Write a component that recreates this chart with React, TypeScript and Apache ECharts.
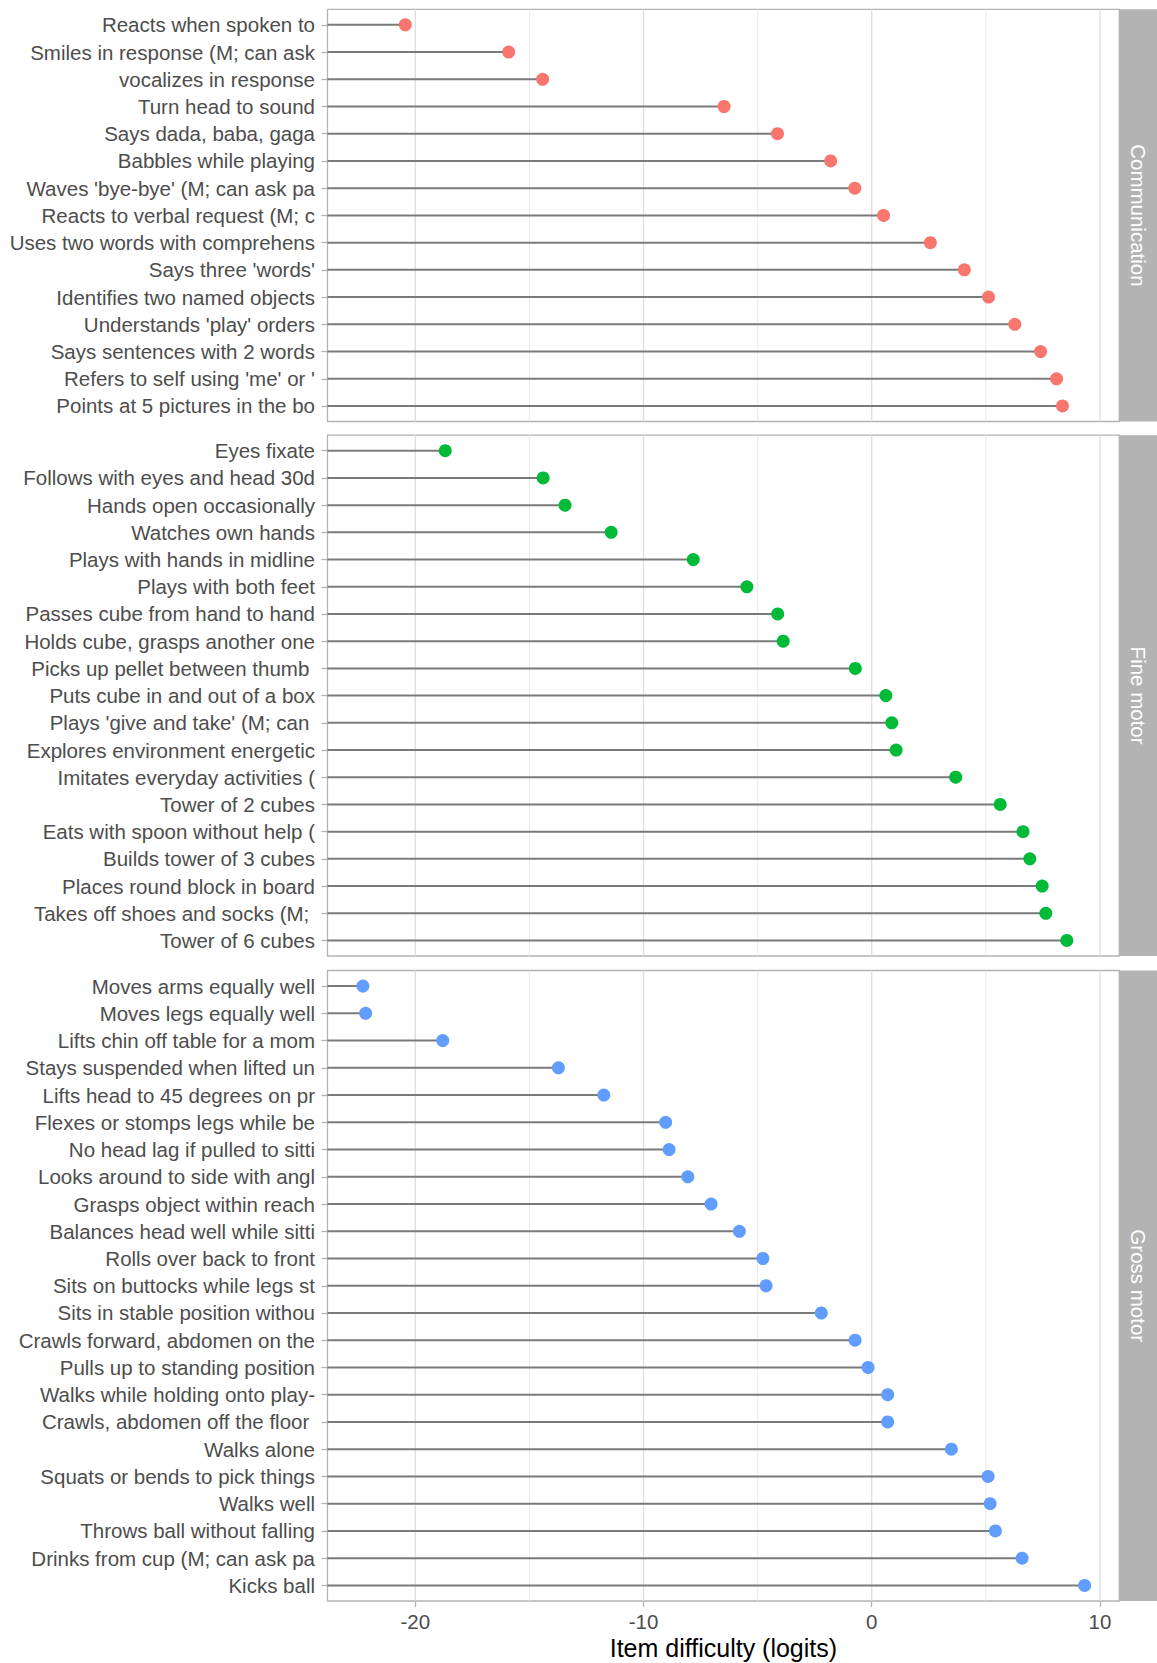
import React, { useEffect, useRef } from "react";
import * as echarts from "echarts";

// ---------- data ----------
const commItems = [
  "Reacts when spoken to",
  "Smiles in response (M; can ask",
  "vocalizes in response",
  "Turn head to sound",
  "Says dada, baba, gaga",
  "Babbles while playing",
  "Waves 'bye-bye' (M; can ask pa",
  "Reacts to verbal request (M; c",
  "Uses two words with comprehens",
  "Says three 'words'",
  "Identifies two named objects",
  "Understands 'play' orders",
  "Says sentences with 2 words",
  "Refers to self using 'me' or '",
  "Points at 5 pictures in the bo",
];
const commValues = [-20.44, -15.91, -14.42, -6.47, -4.13, -1.8, -0.74, 0.52, 2.57, 4.06, 5.12, 6.27, 7.4, 8.1, 8.36];

const fineItems = [
  "Eyes fixate",
  "Follows with eyes and head 30d",
  "Hands open occasionally",
  "Watches own hands",
  "Plays with hands in midline",
  "Plays with both feet",
  "Passes cube from hand to hand",
  "Holds cube, grasps another one",
  "Picks up pellet between thumb ",
  "Puts cube in and out of a box",
  "Plays 'give and take' (M; can ",
  "Explores environment energetic",
  "Imitates everyday activities (",
  "Tower of 2 cubes",
  "Eats with spoon without help (",
  "Builds tower of 3 cubes",
  "Places round block in board",
  "Takes off shoes and socks (M; ",
  "Tower of 6 cubes",
];
const fineValues = [-18.69, -14.4, -13.44, -11.42, -7.82, -5.47, -4.12, -3.88, -0.72, 0.62, 0.88, 1.07, 3.68, 5.63, 6.63, 6.93, 7.47, 7.63, 8.55];

const grossItems = [
  "Moves arms equally well",
  "Moves legs equally well",
  "Lifts chin off table for a mom",
  "Stays suspended when lifted un",
  "Lifts head to 45 degrees on pr",
  "Flexes or stomps legs while be",
  "No head lag if pulled to sitti",
  "Looks around to side with angl",
  "Grasps object within reach",
  "Balances head well while sitti",
  "Rolls over back to front",
  "Sits on buttocks while legs st",
  "Sits in stable position withou",
  "Crawls forward, abdomen on the",
  "Pulls up to standing position",
  "Walks while holding onto play-",
  "Crawls, abdomen off the floor ",
  "Walks alone",
  "Squats or bends to pick things",
  "Walks well",
  "Throws ball without falling",
  "Drinks from cup (M; can ask pa",
  "Kicks ball",
];
const grossValues = [-22.3, -22.18, -18.8, -13.73, -11.74, -9.03, -8.88, -8.06, -7.04, -5.8, -4.77, -4.63, -2.21, -0.73, -0.16, 0.7, 0.7, 3.49, 5.1, 5.19, 5.42, 6.59, 9.33];

const panelNames = ["Communication", "Fine motor", "Gross motor"];
const panelColors = ["#F8766D", "#00BA38", "#619CFF"];

const xMajorTicks = [-20, -10, 0, 10];
const xMinorTicks = [-15, -5, 5];
const xTitle = "Item difficulty (logits)";

// ---------- layout ----------
const W = 1157;
const H = 1663;
const X_MIN = -23.85;
const X_MAX = 10.85;
const PANEL_LEFT = 327.5;
const PANEL_RIGHT = 1119.3;
const STRIP_W = W - PANEL_RIGHT;
const EXPAND = 0.57;
const panelTops = [9.3, 435.2, 970.5];
const panelHeights = [412.2, 520.8, 630.5];
const FONT = "'Liberation Sans', Arial, Helvetica, sans-serif";

const panels = [
  { items: commItems, values: commValues },
  { items: fineItems, values: fineValues },
  { items: grossItems, values: grossValues },
];

function labelText(s: string) {
  return s.replace(/ $/, "\u00A0");
}

export default function App() {
  const ref = useRef<HTMLDivElement>(null);

  useEffect(() => {
    document.body.style.margin = "0";
    if (!ref.current) return;
    const chart = echarts.init(ref.current, undefined, { renderer: "svg" });

    const grids: any[] = [];
    const xAxes: any[] = [];
    const yAxes: any[] = [];
    const series: any[] = [];
    const graphics: any[] = [];

    panels.forEach((p, k) => {
      const n = p.items.length;
      const isLast = k === panels.length - 1;
      grids.push({
        left: PANEL_LEFT,
        width: PANEL_RIGHT - PANEL_LEFT,
        top: panelTops[k],
        height: panelHeights[k],
        show: true,
        borderColor: "#B3B3B3",
        borderWidth: 1.3,
        backgroundColor: "#FFFFFF",
        containLabel: false,
      });
      const idx = p.items.map((_, i) => i);
      yAxes.push({
        type: "value",
        gridIndex: k,
        position: "left",
        min: -EXPAND,
        max: n - 1 + EXPAND,
        inverse: true,
        axisLine: { show: false, onZero: false },
        splitLine: { show: false },
        axisTick: {
          show: true,
          length: 6,
          customValues: idx,
          lineStyle: { color: "#B3B3B3", width: 1.3 },
        },
        axisLabel: {
          show: true,
          customValues: idx,
          margin: 12.5,
          fontSize: 20.5,
          color: "#4D4D4D",
          fontFamily: FONT,
          formatter: (v: number) => labelText(p.items[Math.round(v)] ?? ""),
        },
      });
      xAxes.push({
        type: "value",
        gridIndex: k,
        position: "bottom",
        min: X_MIN,
        max: X_MAX,
        axisLine: { show: false, onZero: false },
        splitLine: { show: false },
        axisTick: isLast
          ? { show: true, length: 6, customValues: xMajorTicks, lineStyle: { color: "#B3B3B3", width: 1.3 } }
          : { show: false },
        axisLabel: isLast
          ? {
              show: true,
              customValues: xMajorTicks,
              margin: 10,
              fontSize: 20.5,
              color: "#4D4D4D",
              fontFamily: FONT,
            }
          : { show: false },
        name: isLast ? xTitle : "",
        nameLocation: "middle",
        nameGap: 34,
        nameTextStyle: { fontSize: 25, color: "#000000", fontFamily: FONT },
      });

      // grid lines (major + minor)
      const gridData = [
        ...xMajorTicks.map((v) => [v, 1]),
        ...xMinorTicks.map((v) => [v, 0]),
      ];
      series.push({
        type: "custom",
        xAxisIndex: k,
        yAxisIndex: k,
        silent: true,
        z: 1,
        data: gridData,
        encode: { x: 0 },
        renderItem: (params: any, api: any) => {
          const x = api.coord([api.value(0), 0])[0];
          const cs = params.coordSys;
          const major = api.value(1) === 1;
          return {
            type: "line",
            shape: { x1: x, y1: cs.y, x2: x, y2: cs.y + cs.height },
            style: { stroke: major ? "#DEDEDE" : "#E8E8E8", lineWidth: major ? 1.3 : 0.9 },
          };
        },
      });

      const pts = p.values.map((v, i) => [v, i]);
      // segments
      series.push({
        type: "custom",
        xAxisIndex: k,
        yAxisIndex: k,
        silent: true,
        z: 2,
        data: pts,
        encode: { x: 0, y: 1 },
        renderItem: (params: any, api: any) => {
          const v = api.value(0);
          const i = api.value(1);
          const a = api.coord([X_MIN, i]);
          const b = api.coord([v, i]);
          return {
            type: "line",
            shape: { x1: a[0], y1: a[1], x2: b[0], y2: b[1] },
            style: { stroke: "#7A7A7A", lineWidth: 2 },
          };
        },
      });
      // points
      series.push({
        type: "scatter",
        xAxisIndex: k,
        yAxisIndex: k,
        z: 3,
        data: pts,
        symbol: "circle",
        symbolSize: 13,
        itemStyle: { color: panelColors[k], opacity: 1 },
      });

      // strip
      graphics.push({
        type: "rect",
        shape: { x: PANEL_RIGHT, y: panelTops[k], width: STRIP_W, height: panelHeights[k] },
        style: { fill: "#B3B3B3" },
        silent: true,
      });
      graphics.push({
        type: "text",
        x: PANEL_RIGHT + STRIP_W / 2,
        y: panelTops[k] + panelHeights[k] / 2,
        rotation: -Math.PI / 2,
        style: {
          text: panelNames[k],
          fill: "#FFFFFF",
          fontSize: 20.5,
          fontFamily: FONT,
          align: "center",
          verticalAlign: "middle",
        },
        silent: true,
      });
    });

    chart.setOption({
      animation: false,
      backgroundColor: "#FFFFFF",
      textStyle: { fontFamily: FONT },
      grid: grids,
      xAxis: xAxes,
      yAxis: yAxes,
      series,
      graphic: graphics,
    });

    return () => {
      chart.dispose();
    };
  }, []);

  return <div ref={ref} style={{ width: W, height: H }} />;
}
